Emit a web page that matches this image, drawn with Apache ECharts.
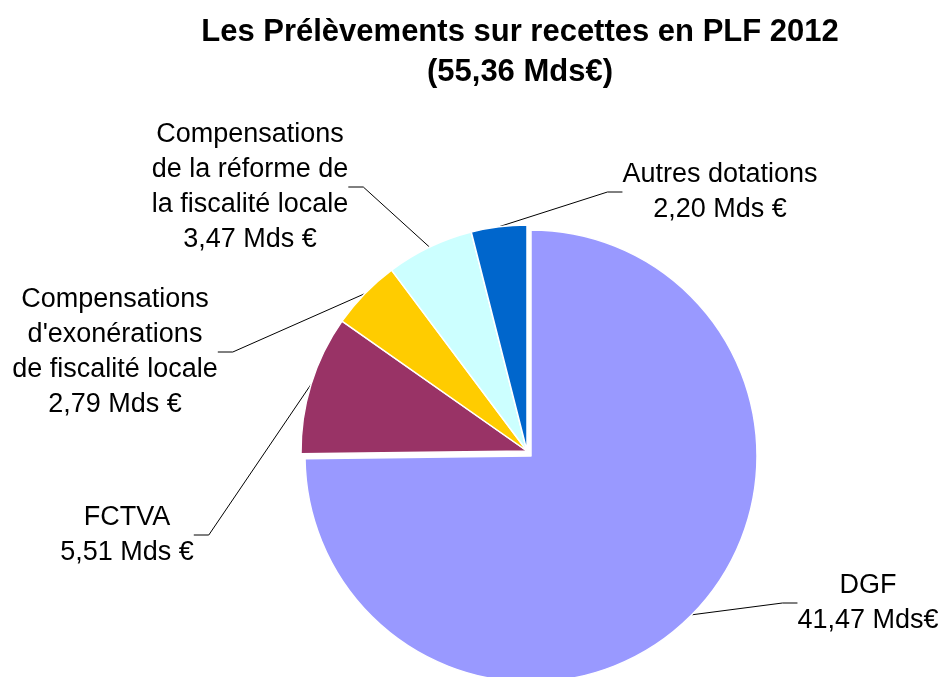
<!DOCTYPE html>
<html>
<head>
<meta charset="utf-8">
<script src="https://cdn.jsdelivr.net/npm/echarts@6/dist/echarts.min.js"></script>
<style>
  html, body { margin: 0; padding: 0; background: #fff; }
  #chart { width: 946px; height: 677px; }
</style>
</head>
<body>
<div id="chart"></div>
<script>
// données du graphique (Mds €)
const categories = [
  'DGF',
  'FCTVA',
  "Compensations\nd'exonérations\nde fiscalité locale",
  'Compensations\nde la réforme de\nla fiscalité locale',
  'Autres dotations'
];
const values = [41.47, 5.51, 2.79, 3.47, 2.20];
const units = ['Mds€', 'Mds €', 'Mds €', 'Mds €', 'Mds €'];
const colors = ['#9999FF', '#993366', '#FFCC00', '#CCFFFF', '#0066CC'];

// centre des étiquettes
const labelPos = [[868, 603], [127, 535], [115, 352], [250, 187], [720, 192]];

const font = 'Liberation Sans, Arial, sans-serif';

// une série par "groupe" : la DGF est détachée du reste du camembert
function pieSeries(center, showIdx) {
  return {
    type: 'pie',
    center: center,
    radius: 226,
    startAngle: 90,
    clockwise: true,
    silent: true,
    data: categories.map((name, i) => {
      const on = showIdx(i);
      return {
        name: name,
        value: values[i],
        itemStyle: on ? { color: colors[i] } : { color: 'rgba(0,0,0,0)', borderWidth: 0 },
        label: { show: on },
        labelLine: { show: on }
      };
    }),
    itemStyle: { borderColor: '#fff', borderWidth: 1.5 },
    label: {
      position: 'outside',
      fontFamily: font,
      fontSize: 27,
      lineHeight: 35,
      color: '#000',
      formatter: p => p.name + '\n' + values[p.dataIndex].toFixed(2).replace('.', ',') + ' ' + units[p.dataIndex]
    },
    labelLine: {
      length: 20,
      length2: 15,
      lineStyle: { color: '#000', width: 1 }
    },
    labelLayout: function (params) {
      const p = labelPos[params.dataIndex];
      return { x: p[0], y: p[1], align: 'center', verticalAlign: 'middle' };
    },
    emphasis: { disabled: true }
  };
}

const myChart = echarts.init(document.getElementById('chart'));

myChart.setOption({
  animation: false,
  title: {
    text: 'Les Prélèvements sur recettes en PLF 2012\n(55,36 Mds€)',
    left: 515,
    top: 7,
    textAlign: 'center',
    textStyle: {
      fontFamily: font,
      fontWeight: 'bold',
      fontSize: 31,
      lineHeight: 40,
      color: '#000'
    }
  },
  series: [
    pieSeries([531, 456], i => i === 0),
    pieSeries([527, 451], i => i !== 0)
  ]
});
</script>
</body>
</html>
